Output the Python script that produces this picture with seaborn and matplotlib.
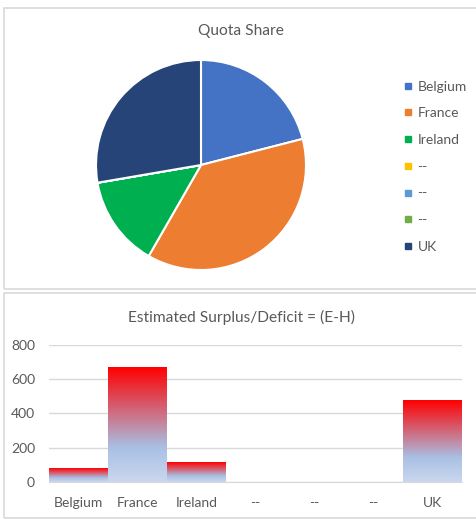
import matplotlib.pyplot as plt
import seaborn as sns
import numpy as np
from matplotlib.colors import LinearSegmentedColormap
from matplotlib.lines import Line2D
from matplotlib.patches import Rectangle

countries = ["Belgium", "France", "Ireland", "--", "--", "--", "UK"]
quota_share = [21.0, 37.3, 14.0, 0, 0, 0, 27.7]
surplus = [78, 670, 115, 0, 0, 0, 478]
pie_colors = ["#4472C4", "#ED7D31", "#00B050", "#FFC000", "#5B9BD5", "#70AD47", "#264478"]

W, H = 477, 519
text_grey = "#595959"
grid_grey = "#D9D9D9"

sns.set_style("white")
plt.rcParams['font.family'] = ['Lato', 'DejaVu Sans']

fig = plt.figure(figsize=(W / 100, H / 100), dpi=100)

# panel frames (pixel coords -> figure coords)
def frame(x0, y0, x1, y1):
    fig.add_artist(Rectangle((x0 / W, 1 - y1 / H), (x1 - x0) / W, (y1 - y0) / H,
                             transform=fig.transFigure, fill=False,
                             edgecolor=grid_grey, linewidth=1.2))

frame(4, 8, 490, 289)
frame(4, 293, 490, 518)

# --- pie ---
ax1 = fig.add_axes([96 / W, 1 - 270 / H, 210 / W, 210 / H])
wedges, _ = ax1.pie(quota_share, colors=pie_colors, startangle=90, counterclock=False,
                    radius=1, wedgeprops=dict(edgecolor="white", linewidth=1.5))
ax1.set_xlim(-1, 1)
ax1.set_ylim(-1, 1)
fig.text(241 / W, 1 - 31 / H, "Quota Share", ha="center", va="center",
         fontsize=11.2, color=text_grey)

handles = [Line2D([], [], marker="s", linestyle="none", markersize=5,
                  markerfacecolor=c, markeredgecolor=c) for c in pie_colors]
fig.legend(handles, countries, loc="upper left", bbox_to_anchor=(398 / W, 1 - 75 / H),
           frameon=False, fontsize=10, labelcolor=text_grey, handlelength=0.6,
           handletextpad=0.4, labelspacing=1.06, borderaxespad=0)

# --- gradient bars ---
ax2 = fig.add_axes([49 / W, 1 - 481.7 / H, 413 / W, 136.7 / H])
sns.barplot(x=np.arange(len(countries)), y=surplus, ax=ax2, width=1.0, color="#A9C0E4")

grad = LinearSegmentedColormap.from_list(
    "bar_grad", [(0.0, "#FF0000"), (0.70, "#A9C0E4"), (1.0, "#CBD7EE")])
ramp = grad(np.linspace(0, 1, 256))[:, None, :]
for p in ax2.patches:
    h = p.get_height()
    p.set_visible(False)
    if h <= 0:
        continue
    x0 = p.get_x()
    ax2.imshow(ramp, extent=[x0, x0 + p.get_width(), 0, h], aspect="auto",
               zorder=2, interpolation="bilinear")

ax2.set_xlim(-0.5, len(countries) - 0.5)
ax2.set_ylim(0, 800)
ax2.set_yticks([0, 200, 400, 600, 800])
ax2.set_xticks(range(len(countries)), countries)
ax2.grid(axis="y", color=grid_grey, linewidth=1)
ax2.set_axisbelow(True)
for s in ["top", "right", "left"]:
    ax2.spines[s].set_visible(False)
ax2.spines["bottom"].set_color(grid_grey)
ax2.tick_params(axis="both", length=0, labelsize=10, labelcolor=text_grey)
ax2.tick_params(axis="y", pad=10)
ax2.tick_params(axis="x", pad=11)
ax2.set_xlabel("")
ax2.set_ylabel("")
fig.text(241 / W, 1 - 317 / H, "Estimated Surplus/Deficit = (E-H)", ha="center",
         va="center", fontsize=11.2, color=text_grey)

fig.savefig("out.png", dpi=100)
